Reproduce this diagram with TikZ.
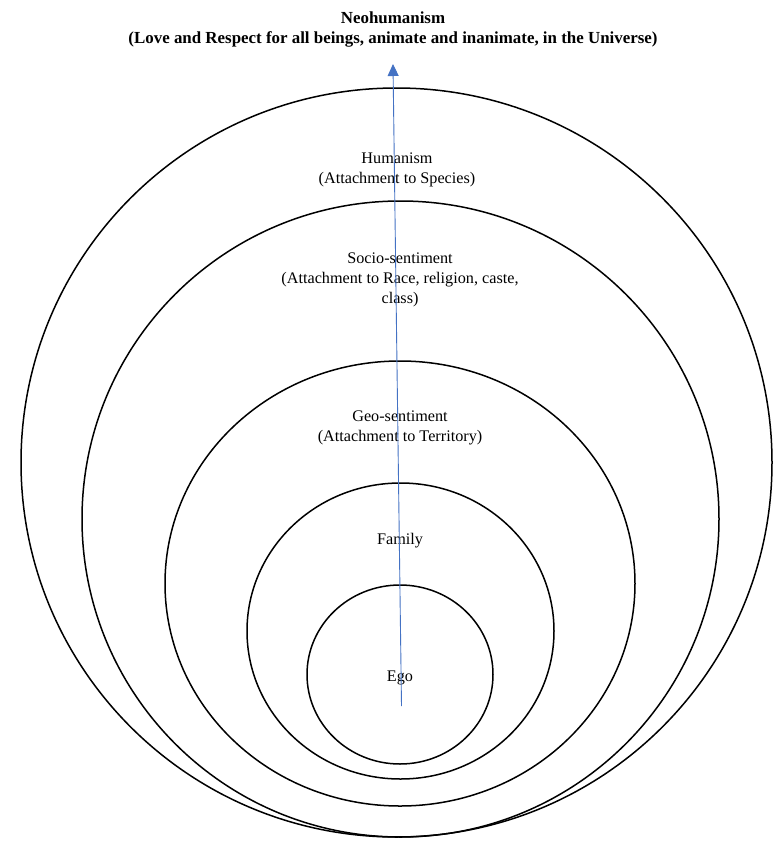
\documentclass[tikz,border=0pt]{standalone}
\usepackage{fontspec}
\setmainfont{Liberation Serif}
\usetikzlibrary{arrows.meta}
\definecolor{arrowblue}{RGB}{68,114,196}
\tikzset{
  ring/.style={draw=black, line width=1.5pt},
  lbl/.style={align=center, font=\fontsize{16.2}{20}\selectfont, inner sep=0pt},
  title/.style={align=center, font=\fontsize{16.9}{20}\selectfont\bfseries, inner sep=0pt},
  growth/.style={draw=arrowblue, line width=0.9pt, -{Triangle[width=11pt,length=12pt]}}
}
\begin{document}
\begin{tikzpicture}[x=1pt,y=-1pt]
\useasboundingbox (0,0) rectangle (782,841);
\fill[white] (0,0) rectangle (782,841);
% rings
\draw[ring] (396.5,462.5) ellipse [x radius=375.5, y radius=374.5];
\draw[ring] (400.5,519) ellipse [x radius=318.5, y radius=318];
\draw[ring] (400,583.5) ellipse [x radius=235, y radius=222.5];
\draw[ring] (400.5,631) ellipse [x radius=153.5, y radius=148];
\draw[ring] (400,674.5) ellipse [x radius=93, y radius=89.5];
% labels
\node[title] (neo) at (393,29) {Neohumanism\\(Love and Respect for all beings, animate and inanimate, in the Universe)};
\node[lbl] (hum) at (397,169.5) {Humanism\\(Attachment to Species)};
\node[lbl] (socio) at (400,279.5) {Socio-sentiment\\(Attachment to Race, religion, caste,\\class)};
\node[lbl] (geo) at (400,428) {Geo-sentiment\\(Attachment to Territory)};
\node[lbl] (fam) at (400,540.5) {Family};
\node[lbl] (ego) at (400,677.5) {Ego};
% arrow
\coordinate (astart) at (401.5,706);
\coordinate (aend) at (393,64);
\draw[growth] (astart) -- (aend);
\end{tikzpicture}
\end{document}
